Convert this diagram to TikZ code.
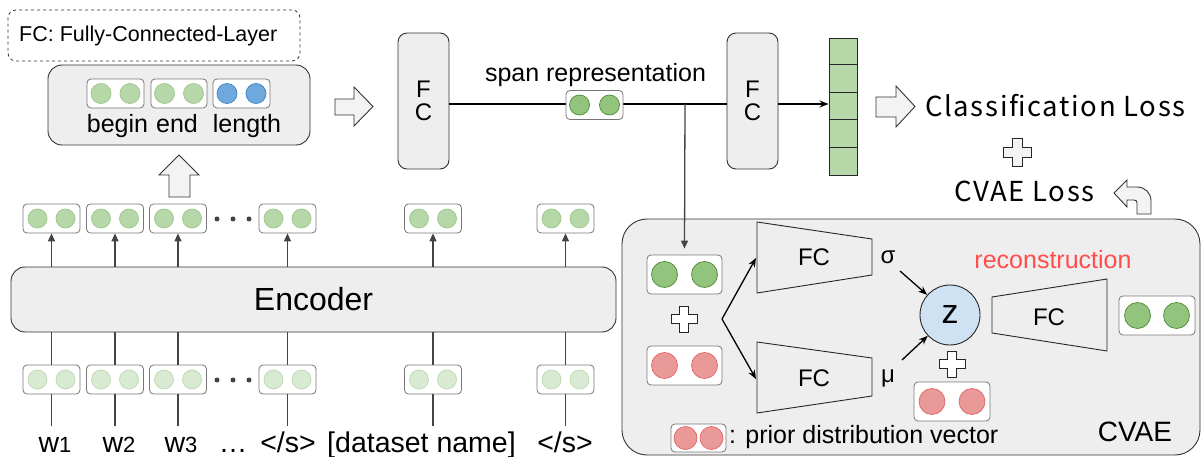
\documentclass[tikz,border=0pt]{standalone}
\usepackage{fontspec}
\setmainfont{Liberation Sans}
\newfontfamily\jpfont[LetterSpace=6]{Noto Sans CJK JP}
\usetikzlibrary{calc,arrows.meta}
\definecolor{bggray}{HTML}{EEEEEE}
\definecolor{linegray}{HTML}{444444}
\definecolor{vecgray}{HTML}{777777}
\definecolor{lgfill}{HTML}{B6D7A8}
\definecolor{lgdraw}{HTML}{9CC78A}
\definecolor{vlgfill}{HTML}{D9EAD3}
\definecolor{vlgdraw}{HTML}{BCD9B0}
\definecolor{mgfill}{HTML}{93C47D}
\definecolor{mgdraw}{HTML}{4E8A33}
\definecolor{rdfill}{HTML}{EA9999}
\definecolor{rddraw}{HTML}{E06666}
\definecolor{blfill}{HTML}{6FA8DC}
\definecolor{bldraw}{HTML}{3D85C6}
\definecolor{zfill}{HTML}{CFE2F3}
\definecolor{recred}{HTML}{FF4D4D}
\definecolor{arrfill}{HTML}{F3F3F3}
\newcommand\myvec[6]{%
  \node[vecbox, minimum width=#3, minimum height=#4] (#1) at #2 {};
  \node[dot, #5] (#1-l) at ($(#1.center)+(-#6,0)$) {};
  \node[dot, #5] (#1-r) at ($(#1.center)+(#6,0)$) {};
}
\newcommand\plusat[5]{%
  \draw[plusst, #5, shift={(#1,#2)}] (-#4,-#3) -- (#4,-#3) -- (#4,-#4) -- (#3,-#4) -- (#3,#4) -- (#4,#4) -- (#4,#3) -- (-#4,#3) -- (-#4,#4) -- (-#3,#4) -- (-#3,-#4) -- (-#4,-#4) -- cycle;
}
\tikzset{
  vecbox/.style={draw=vecgray, fill=white, rounded corners=4, inner sep=0, line width=0.8},
  dot/.style={circle, inner sep=0, line width=0.7},
  lg/.style={fill=lgfill, draw=lgdraw, minimum size=19},
  vlg/.style={fill=vlgfill, draw=vlgdraw, minimum size=19},
  mg/.style={fill=mgfill, draw=mgdraw},
  rd/.style={fill=rdfill, draw=rddraw},
  bl/.style={fill=blfill, draw=bldraw, minimum size=20},
  graybox/.style={draw=black!80, fill=bggray, line width=0.9, inner sep=0},
  garrow/.style={draw=linegray, line width=1.3, -{Triangle[length=8,width=7]}},
  gline/.style={draw=linegray, line width=1.3},
  barrow/.style={draw=black, line width=1.3, -{Stealth[length=9,width=7]}},
  blockarr/.style={draw=black!80, fill=arrfill, line width=0.9, line join=miter},
  plusst/.style={draw=black!85, fill=white, line width=0.9},
  trap/.style={draw=black!85, line width=0.9},
  t20/.style={font=\fontsize{21.5}{26}\selectfont},
  t24/.style={font=\fontsize{24}{23.5}\selectfont},
  t25/.style={font=\fontsize{25}{30}\selectfont},
  t28/.style={font=\fontsize{28.5}{32}\selectfont},
  jp/.style={font=\jpfont\fontsize{27.5}{31}\selectfont},
  dd/.style={circle, fill=linegray, inner sep=0, minimum size=5},
}
\begin{document}
\begin{tikzpicture}[x=1pt,y=-1pt]
\useasboundingbox (0,0) rectangle (1203,457);

% legend dashed box
\node[draw=black!80, dashed, rounded corners=8, line width=0.8, minimum width=292, minimum height=51, inner sep=0] (legend) at (154,35.5) {};
\node[t20, anchor=west, inner sep=0] (legendtxt) at (19,35.5) {FC: Fully-Connected-Layer};

% begin end length box
\node[graybox, rounded corners=14, minimum width=262, minimum height=80] (bel) at (179,105) {};
\myvec{vb1}{(115.5,93.5)}{57}{29}{lg,minimum size=20}{14.5}
\myvec{vb2}{(179,93.5)}{56}{29}{lg,minimum size=20}{14.5}
\myvec{vb3}{(241.5,93.5)}{57}{29}{bl}{14.5}
\node[t25, anchor=base, inner sep=0] (tbegin) at (117.5,133) {begin};
\node[t25, anchor=base, inner sep=0] (tend) at (177,133) {end};
\node[t25, anchor=base, inner sep=0] (tlength) at (247,133) {length};

% block arrows
\draw[blockarr] (179,155) -- (199,175) -- (190,175) -- (190,197) -- (169,197) -- (169,175) -- (159,175) -- cycle;
\draw[blockarr] (335,99) -- (354,99) -- (354,87) -- (373,106.5) -- (354,126) -- (354,115) -- (335,115) -- cycle;
\draw[blockarr] (876,97) -- (896,97) -- (896,86) -- (915,106.5) -- (896,127) -- (896,117) -- (876,117) -- cycle;
\draw[blockarr] (1114,193) -- (1127,180) -- (1127,187) -- (1137,187) .. controls (1145,187) and (1151,193) .. (1151,201) -- (1151,214) -- (1137,214) -- (1137,203) .. controls (1137,201) and (1136,200) .. (1134,200) -- (1127,200) -- (1127,207) -- cycle;

% FC boxes
\node[graybox, rounded corners=9, minimum width=51, minimum height=136, t24, align=center] (fc1) at (423.5,101) {F\\C};
\node[graybox, rounded corners=9, minimum width=51, minimum height=136, t24, align=center] (fc2) at (752.5,101) {F\\C};

% span representation
\coordinate (spanc) at (594.5,104);
\coordinate (branch) at (685,104);
\draw[line width=1.3] (fc1.east |- spanc) -- (fc2.west |- spanc);
\myvec{spanv}{(594.5,105)}{57}{29}{mg,minimum size=20}{15}
\node[t25, inner sep=0, anchor=base] (spantxt) at (595.5,82) {span representation};

% output stack
\node[draw=black!85, fill=lgfill, line width=0.9, minimum width=28, minimum height=137, inner sep=0] (stack) at (843,106.5) {};
\foreach \k in {1,2,3,4} {
  \draw[black!85, line width=0.9] ($(stack.north west)+(0,27.4*\k)$) -- ($(stack.north east)+(0,27.4*\k)$);
}
\draw[barrow] (fc2.east |- spanc) -- (stack.west |- spanc);

% losses
\node[jp, anchor=base west, inner sep=0] (closs) at (925,117) {Classification Loss};
\plusat{1017}{152}{14}{5}{fill=arrfill}
\node[jp, anchor=base west, inner sep=0] (vloss) at (954,202) {CVAE Loss};

% encoder
\node[graybox, rounded corners=14, minimum width=605, minimum height=65, font=\fontsize{32}{38}\selectfont] (enc) at (313.5,299.5) {Encoder};
\foreach \x [count=\i] in {51.5,115,178,287.5,433,565.5} {
  \myvec{t\i}{(\x,218.5)}{57}{29}{lg}{14}
  \myvec{b\i}{(\x,379.5)}{57}{29}{vlg}{14}
  \draw[garrow] (enc.north -| t\i) -- (t\i.south);
  \draw[gline] (b\i.north) -- (enc.south -| b\i);
  \coordinate (in\i) at (\x,426);
  \draw[gline] (in\i) -- (b\i.south);
}
\foreach \x [count=\i] in {217,233,249} {
  \node[dd] (dt\i) at (\x,219) {};
  \node[dd] (db\i) at (\x,380) {};
}
\node[t28, anchor=base, inner sep=0] (w1) at (55,452) {w{\fontsize{22}{24}\selectfont 1}};
\node[t28, anchor=base, inner sep=0] (w2) at (119,452) {w{\fontsize{22}{24}\selectfont 2}};
\node[t28, anchor=base, inner sep=0] (w3) at (181,452) {w{\fontsize{22}{24}\selectfont 3}};
\node[t28, anchor=base, inner sep=0] (wdots) at (233,452) {…};
\node[t28, anchor=base, inner sep=0] (ws1) at (288,452) {</s>};
\node[t28, anchor=base, inner sep=0] (wds) at (421.5,452) {[dataset name]};
\node[t28, anchor=base, inner sep=0] (ws2) at (565,452) {</s>};

% CVAE
\node[graybox, rounded corners=25, minimum width=578, minimum height=236] (cvae) at (911,337) {};
\myvec{cg}{(684.5,274.5)}{75}{39}{mg,minimum size=26}{20}
\myvec{cr}{(684.5,365.5)}{75}{39}{rd,minimum size=26}{20}
\myvec{zr}{(952,401.5)}{76}{39}{rd,minimum size=26}{20}
\myvec{og}{(1157,315.5)}{76}{39}{mg,minimum size=26}{19.5}
\myvec{lr}{(698.5,438)}{55}{28}{rd,minimum size=23}{13}
\draw[garrow] (branch) -- ($(cg.north)+(0,-6)$);
\plusat{684}{319}{13}{4.7}{}
\plusat{952}{364}{13}{4.7}{}

\draw[trap] (757,222) -- (872,239) -- (872,275) -- (757,293) -- cycle;
\node[t24, inner sep=0] (fcs) at (814,257) {FC};
\draw[trap] (757,342) -- (872,358) -- (872,396) -- (757,413) -- cycle;
\node[t24, inner sep=0] (fcm) at (814,378) {FC};
\draw[trap] (992,297) -- (1107,279) -- (1107,351) -- (992,333) -- cycle;
\node[t24, inner sep=0] (fcd) at (1049,317) {FC};

\coordinate (br) at (722,319);
\coordinate (sin) at (756,258);
\coordinate (min) at (756,379);
\draw[barrow] (br) -- (sin);
\draw[barrow] (br) -- (min);

\node[t24, inner sep=0] (sigma) at (888,257) {σ};
\node[t24, inner sep=0] (mu) at (888,378) {μ};
\node[circle, draw=black!85, fill=zfill, line width=0.9, minimum size=60, inner sep=0, font=\fontsize{34}{40}\selectfont] (z) at (950,315) {z};
\coordinate (sout) at (900,271);
\coordinate (mout) at (902,360);
\draw[barrow] (sout) -- (z);
\draw[barrow] (mout) -- (z);

\node[t25, text=recred, inner sep=0] (recon) at (1053,260) {reconstruction};
\node[font=\fontsize{28}{34}\selectfont, inner sep=0] (cvaetxt) at (1135,432) {CVAE};
\node[t25, anchor=west, inner sep=0] (priortxt) at (729,437) {: prior distribution vector};
\end{tikzpicture}
\end{document}
